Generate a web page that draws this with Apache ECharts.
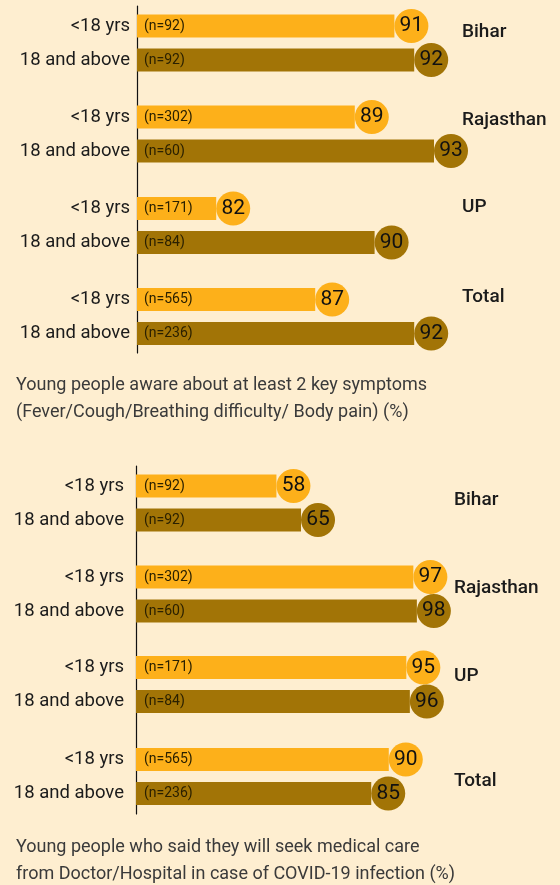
<!DOCTYPE html>
<html>
<head>
<meta charset="utf-8">
<script src="https://cdn.jsdelivr.net/npm/echarts@6/dist/echarts.min.js"></script>
<style>
html,body{margin:0;padding:0;background:#FEEED0;}
#chart{width:560px;height:885px;}
</style>
</head>
<body>
<div id="chart"></div>
<script>
// ---- data ----
const regions = ['Bihar', 'Rajasthan', 'UP', 'Total'];
const ageGroups = ['<18 yrs', '18 and above'];
const awareUnder18 = [91, 89, 82, 87];
const awareAbove18 = [92, 93, 90, 92];
const careUnder18 = [58, 97, 95, 90];
const careAbove18 = [65, 98, 96, 85];
const nUnder18 = [92, 302, 171, 565];
const nAbove18 = [92, 60, 84, 236];
const awareCaption = ['Young people aware about at least 2 key symptoms',
  '(Fever/Cough/Breathing difficulty/ Body pain) (%)'];
const careCaption = ['Young people who said they will seek medical care',
  'from Doctor/Hospital in case of COVID-19 infection (%)'];

// ---- style / layout ----
const FONT = 'Roboto';
const LIGHT = '#FDB01A';
const DARK = '#A27406';
const TEXT = '#1b1b1b';
const panels = [
  { under: awareUnder18, above: awareAbove18, caption: awareCaption,
    min: 78, max: 96, left: 137, right: 66.6,
    groupTops: [9, 100, 191.5, 282.5], axisTop: 6, axisBottom: 353,
    labelMargin: 7, nDist: 7, regionX: 462, regionY: [32, 120.5, 207.5, 297.5],
    captionY: [385, 412] },
  { under: careUnder18, above: careAbove18, caption: careCaption,
    min: 18, max: 110, left: 136, right: 101,
    groupTops: [469, 560, 650.5, 742.5], axisTop: 466, axisBottom: 814,
    labelMargin: 12, nDist: 8, regionX: 454, regionY: [500, 588.5, 676.5, 781.5],
    captionY: [847.5, 874.5] }
];

const grid = [], xAxis = [], yAxis = [], series = [], graphic = [];
panels.forEach((p) => {
  // continuous vertical axis line for the panel
  const gi0 = grid.length;
  grid.push({ left: p.left, top: p.axisTop, width: 10, height: p.axisBottom - p.axisTop });
  xAxis.push({ gridIndex: gi0, type: 'value', min: 0, max: 1, show: false });
  yAxis.push({ gridIndex: gi0, type: 'value', min: 0, max: 1,
    axisLine: { show: true, onZero: false, lineStyle: { color: '#111', width: 1.2 } },
    axisTick: { show: false }, axisLabel: { show: false }, splitLine: { show: false } });

  regions.forEach((r, i) => {
    const gi = grid.length;
    grid.push({ left: p.left, right: p.right, top: p.groupTops[i], height: 68 });
    xAxis.push({ gridIndex: gi, type: 'value', min: p.min, max: p.max, show: false });
    yAxis.push({ gridIndex: gi, type: 'category', data: ageGroups, inverse: true,
      axisLine: { show: false }, axisTick: { show: false }, splitLine: { show: false },
      axisLabel: { margin: p.labelMargin, fontFamily: FONT, fontSize: 18.5, color: TEXT } });
    const nVals = [nUnder18[i], nAbove18[i]];
    series.push({
      type: 'bar', xAxisIndex: gi, yAxisIndex: gi, barWidth: 23, z: 2,
      data: [
        { value: p.under[i], itemStyle: { color: LIGHT } },
        { value: p.above[i], itemStyle: { color: DARK } }
      ],
      label: { show: true, position: 'insideLeft', distance: p.nDist,
        formatter: (d) => '(n=' + nVals[d.dataIndex] + ')',
        fontFamily: FONT, fontSize: 14, color: '#2a2000' },
      silent: true, animation: false
    });
    series.push({
      type: 'scatter', xAxisIndex: gi, yAxisIndex: gi, symbol: 'circle', symbolSize: 34,
      symbolOffset: [17, 0], clip: false, z: 3,
      data: [
        { value: [p.under[i], ageGroups[0]], itemStyle: { color: LIGHT, opacity: 1 } },
        { value: [p.above[i], ageGroups[1]], itemStyle: { color: DARK, opacity: 1 } }
      ],
      itemStyle: { opacity: 1 },
      label: { show: true, position: 'inside', formatter: (d) => String(d.value[0]),
        fontFamily: FONT, fontSize: 21, color: '#111' },
      silent: true, animation: false
    });
    graphic.push({ type: 'text', x: p.regionX, y: p.regionY[i],
      style: { text: r, fill: TEXT, font: '500 19px ' + FONT, verticalAlign: 'middle', align: 'left' } });
  });
  p.caption.forEach((c, k) => {
    graphic.push({ type: 'text', x: 16, y: p.captionY[k],
      style: { text: c, fill: '#3a3a3a', font: '18px ' + FONT, verticalAlign: 'middle', align: 'left' } });
  });
});

const chart = echarts.init(document.getElementById('chart'));
chart.setOption({
  backgroundColor: '#FEEED0',
  animation: false,
  grid, xAxis, yAxis, series, graphic
});
</script>
</body>
</html>
